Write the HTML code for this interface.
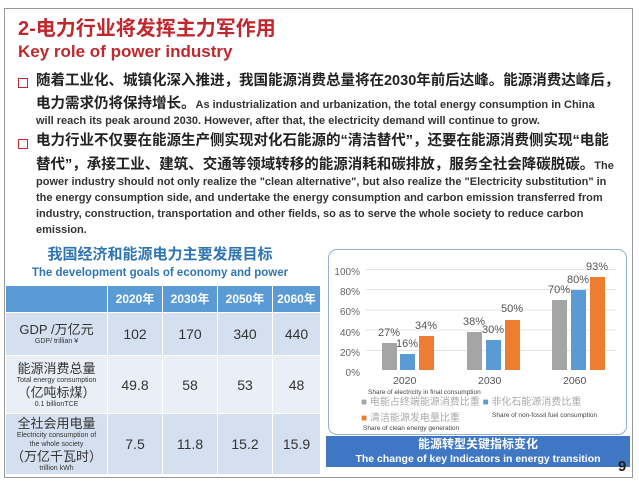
<!DOCTYPE html>
<html><head><meta charset="utf-8"><style>
body{margin:0;width:639px;height:486px;background:#fff;position:relative;overflow:hidden;font-family:"Liberation Sans","Noto Sans CJK SC",sans-serif}
.a{position:absolute;white-space:nowrap;line-height:1.15}
.en{font-size:11px;font-weight:bold;color:#333}
.cn{font-size:14.5px;font-weight:bold;color:#222}
.sq{position:absolute;width:8px;height:8px;border:1.5px solid #c0282e}
table{border-collapse:collapse;position:absolute;left:5px;top:285px;table-layout:fixed}
td{border:1px solid #fff;text-align:center;color:#333;font-size:14px;padding:0;line-height:14px;overflow:hidden}
td span{display:block;font-size:7px;line-height:9px}
td .c{font-size:13px;line-height:15px;display:block}
.bar{position:absolute;bottom:116px;width:15px}
.g{background:#a5a5a5}.bl{background:#5b9bd5}.o{background:#ed7d31}
.lb{position:absolute;font-size:11px;color:#555;width:30px;text-align:center}
</style></head><body>
<div class="a" style="left:4px;top:8px;width:627px;height:468px;border:1px solid #999"></div>
<div class="a" style="left:18px;top:18px;font-size:20px;font-weight:bold;color:#c0282e">2-电力行业将发挥主力军作用</div>
<div class="a" style="left:18px;top:42px;font-size:17px;font-weight:bold;color:#c0282e">Key role of power industry</div>
<div class="sq" style="left:18px;top:78px"></div>
<div class="a cn" style="left:36px;top:73px">随着工业化、城镇化深入推进，我国能源消费总量将在2030年前后达峰。能源消费达峰后，</div>
<div class="a" style="left:36px;top:95px"><span class="cn">电力需求仍将保持增长。</span><span class="en">As industrialization and urbanization, the total energy consumption in China</span></div>
<div class="a en" style="left:36px;top:115px">will reach its peak around 2030. However, after that, the electricity demand will continue to grow.</div>
<div class="sq" style="left:18px;top:139px"></div>
<div class="a cn" style="left:36px;top:133px">电力行业不仅要在能源生产侧实现对化石能源的“清洁替代”，还要在能源消费侧实现“电能</div>
<div class="a" style="left:36px;top:156px"><span class="cn">替代”，承接工业、建筑、交通等领域转移的能源消耗和碳排放，服务全社会降碳脱碳。</span><span class="en">The</span></div>
<div class="a en" style="left:36px;top:176px">power industry should not only realize the "clean alternative", but also realize the "Electricity substitution" in</div>
<div class="a en" style="left:36px;top:192px">the energy consumption side, and undertake the energy consumption and carbon emission transferred from</div>
<div class="a en" style="left:36px;top:208px">industry, construction, transportation and other fields, so as to serve the whole society to reduce carbon</div>
<div class="a en" style="left:36px;top:224px">emission.</div>

<div class="a" style="left:0;top:246px;width:320px;text-align:center;font-size:15px;font-weight:bold;color:#2e75b6">我国经济和能源电力主要发展目标</div>
<div class="a" style="left:0;top:267px;width:320px;text-align:center;font-size:11.5px;font-weight:bold;color:#2e75b6">The development goals of economy and power</div>
<table>
<tr style="height:27px;background:#5a9bd5"><td style="width:101px"></td><td style="width:54px;color:#fff;font-size:12px;font-weight:bold">2020年</td><td style="width:54px;color:#fff;font-size:12px;font-weight:bold">2030年</td><td style="width:54px;color:#fff;font-size:12px;font-weight:bold">2050年</td><td style="width:47px;color:#fff;font-size:12px;font-weight:bold">2060年</td></tr>
<tr style="height:43px;background:#d4dff0"><td><b class="c" style="font-weight:normal">GDP /万亿元</b><span>GDP/ trillian ¥</span></td><td>102</td><td>170</td><td>340</td><td>440</td></tr>
<tr style="height:58px;background:#e9eef7"><td><b class="c" style="font-weight:normal">能源消费总量</b><span>Total energy consumption</span><b class="c" style="font-weight:normal">（亿吨标煤）</b><span>0.1 billionTCE</span></td><td>49.8</td><td>58</td><td>53</td><td>48</td></tr>
<tr style="height:61px;background:#d4dff0"><td><b class="c" style="font-weight:normal">全社会用电量</b><span>Electricity consumption of<br>the whole society</span><b class="c" style="font-weight:normal">（万亿千瓦时）</b><span>trillion kWh</span></td><td>7.5</td><td>11.8</td><td>15.2</td><td>15.9</td></tr>
</table>

<div class="a" style="left:328px;top:249px;width:299px;height:186px;border:1px solid #8fb0d8;border-radius:9px;box-sizing:border-box"></div>
<div class="a" style="left:326px;top:436px;width:304px;height:31px;background:#3f77c4"></div>
<div class="a" style="left:326px;top:438px;width:304px;text-align:center;font-size:12px;font-weight:bold;color:#fff">能源转型关键指标变化</div>
<div class="a" style="left:326px;top:453px;width:304px;text-align:center;font-size:10.5px;font-weight:bold;color:#fff">The change of key Indicators in energy transition</div>
<div class="a" style="left:618px;top:458px;font-size:15px;font-weight:bold;color:#222">9</div>

<div class="a" style="left:334px;top:263px;font-size:10px;color:#666;line-height:20.2px;text-align:right;width:26px">100%<br>80%<br>60%<br>40%<br>20%<br>0%</div>
<div class="a" style="left:366px;top:269px;width:250px;height:101px;background:repeating-linear-gradient(#e4e4e4 0 1px,transparent 1px 20.2px)"></div>
<div class="bar g" style="left:382px;height:27px"></div><div class="lb" style="left:374px;top:327px">27%</div>
<div class="bar bl" style="left:400px;height:16px"></div><div class="lb" style="left:392px;top:338px">16%</div>
<div class="bar o" style="left:419px;height:34px"></div><div class="lb" style="left:411px;top:320px">34%</div>
<div class="bar g" style="left:467px;height:38px"></div><div class="lb" style="left:459px;top:316px">38%</div>
<div class="bar bl" style="left:486px;height:30px"></div><div class="lb" style="left:478px;top:324px">30%</div>
<div class="bar o" style="left:505px;height:50px"></div><div class="lb" style="left:497px;top:303px">50%</div>
<div class="bar g" style="left:552px;height:70px"></div><div class="lb" style="left:544px;top:284px">70%</div>
<div class="bar bl" style="left:571px;height:80px"></div><div class="lb" style="left:563px;top:274px">80%</div>
<div class="bar o" style="left:590px;height:93px"></div><div class="lb" style="left:582px;top:261px">93%</div>
<div class="a" style="left:393px;top:375px;font-size:10.5px;color:#555">2020</div>
<div class="a" style="left:478px;top:375px;font-size:10.5px;color:#555">2030</div>
<div class="a" style="left:563px;top:375px;font-size:10.5px;color:#555">2060</div>
<div class="a" style="left:368px;top:389px;font-size:6.5px;color:#444">Share of electricity in final consumption</div>
<div class="a" style="left:361px;top:397px;font-size:10px;color:#aaa"><span style="color:#a5a5a5">■</span> 电能占终端能源消费比重 <span style="color:#5b9bd5">■</span> 非化石能源消费比重</div>
<div class="a" style="left:492px;top:412px;font-size:6.5px;color:#444">Share of non-fossil fuel consumption</div>
<div class="a" style="left:361px;top:413px;font-size:10px;color:#aaa"><span style="color:#ed7d31">■</span> 清洁能源发电量比重</div>
<div class="a" style="left:363px;top:425px;font-size:6.5px;color:#444">Share of clean energy generation</div>
</body></html>
